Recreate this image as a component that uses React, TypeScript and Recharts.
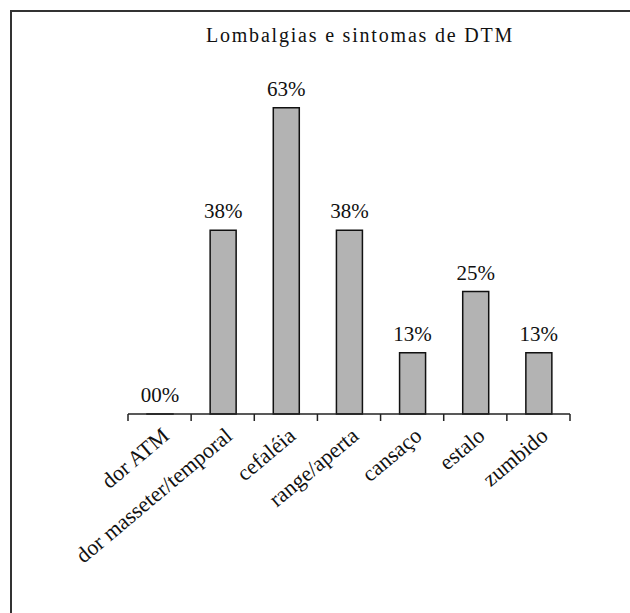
import React from 'react'
import { BarChart, Bar, XAxis, YAxis, LabelList } from 'recharts'

const categorias = ['dor ATM', 'dor masseter/temporal', 'cefaléia', 'range/aperta', 'cansaço', 'estalo', 'zumbido']
const percentuais = [0, 37.5, 62.5, 37.5, 12.5, 25, 12.5]

const FONT = '"Liberation Serif", "DejaVu Serif", serif'

const dados = categorias.map((c, i) => ({ nome: c, valor: percentuais[i] }))

const PLOT_LEFT = 128
const PLOT_RIGHT = 570
const meiaBanda = (PLOT_RIGHT - PLOT_LEFT) / categorias.length / 2

const fmt = (v: any) => String(Math.round(Number(v))).padStart(2, '0') + '%'

const Tick = ({ x, y, payload, index }: any) => {
  const last = index === categorias.length - 1
  return (
    <g>
      <line x1={x - meiaBanda} x2={x - meiaBanda} y1={y - 8} y2={y - 1} stroke="#222" strokeWidth={1.5} />
      {last && <line x1={x + meiaBanda} x2={x + meiaBanda} y1={y - 8} y2={y - 1} stroke="#222" strokeWidth={1.5} />}
      <g transform={`translate(${x + 11},${y + 16})`}>
        <text x={0} y={0} textAnchor="end" transform="rotate(-40)" fill="#111" fontSize={22} fontFamily={FONT}>
          {payload.value}
        </text>
      </g>
    </g>
  )
}

export default function App() {
  return (
    <div style={{ position: 'absolute', left: 0, top: 0, width: 630, height: 613, background: '#fff' }}>
      <div style={{ position: 'absolute', left: 10, top: 10, right: 0, bottom: 0, borderTop: '2px solid #333', borderLeft: '2px solid #333' }} />
      <svg style={{ position: 'absolute', left: 0, top: 0 }} width={630} height={60}>
        <text x={360} y={42} textAnchor="middle" fill="#111" fontSize={20} letterSpacing={1.8} fontFamily={FONT}>
          Lombalgias e sintomas de DTM
        </text>
      </svg>
      <div style={{ position: 'absolute', left: 0, top: 0 }}>
        <BarChart width={630} height={613} data={dados} margin={{ top: 71, right: 630 - PLOT_RIGHT, left: PLOT_LEFT, bottom: 49 }}>
          <YAxis hide domain={[0, 70]} width={0} />
          <XAxis
            dataKey="nome"
            interval={0}
            height={150}
            tickLine={false}
            axisLine={{ stroke: '#222', strokeWidth: 1.5 }}
            tick={<Tick />}
          />
          <Bar dataKey="valor" fill="#b3b3b3" stroke="#111" strokeWidth={1.5} barSize={26} minPointSize={0.01} isAnimationActive={false}>
            <LabelList dataKey="valor" position="top" offset={12} formatter={fmt} fill="#111" fontSize={21} fontFamily={FONT} />
          </Bar>
        </BarChart>
      </div>
    </div>
  )
}
